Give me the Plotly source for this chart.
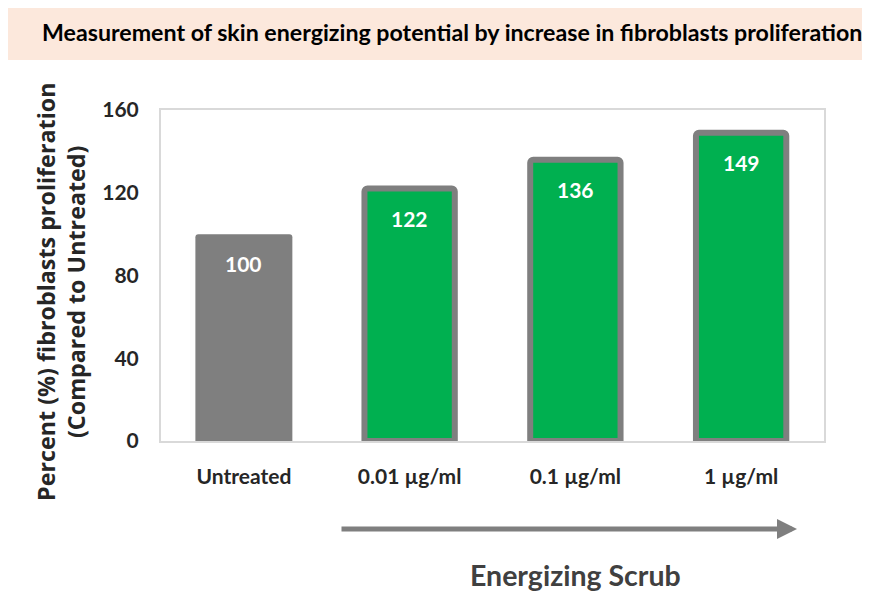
import plotly.graph_objects as go

categories = ["Untreated", "0.01 µg/ml", "0.1 µg/ml", "1 µg/ml"]
values = [100, 122, 136, 149]
labels = ["100", "122", "136", "149"]
y_ticks = [0, 40, 80, 120, 160]

# page offset compensation (body margin)
OFF = 8
W, H = 870 - OFF, 593 - OFF
ml, mr, mt, mb = 161 - OFF, 46, 110 - OFF, 152

FONT = "Lato"

fill_colors = ["#7F7F7F", "#00B050", "#00B050", "#00B050"]
line_widths = [0, 6, 6, 6]
bar_widths = [0.585, 0.545, 0.545, 0.545]

fig = go.Figure()
fig.add_trace(go.Bar(
    x=categories, y=values,
    marker=dict(color=fill_colors, line=dict(color="#7F7F7F", width=line_widths),
                cornerradius=3),
    width=bar_widths, cliponaxis=False, hoverinfo="skip",
))

def px_x(px):
    return (px - OFF - ml) / (W - ml - mr)

def px_y(py):
    return 1 - (py - OFF - mt) / (H - mt - mb)

annotations = [
    dict(text=lab, x=cat, y=val, xref="x", yref="y", yanchor="top", yshift=-15,
         showarrow=False, font=dict(family=FONT, size=21, weight="bold", color="white"))
    for cat, val, lab in zip(categories, values, labels)
]
annotations += [
    dict(text="Measurement of skin energizing potential by increase in fibroblasts proliferation",
         xref="paper", yref="paper", x=px_x(40), y=px_y(32),
         xanchor="left", yanchor="middle", showarrow=False,
         font=dict(family=FONT, size=23.2, weight="bold", color="black")),
    dict(text="Percent (%) fibroblasts proliferation<br>(Compared to Untreated)",
         xref="paper", yref="paper", x=px_x(61), y=px_y(292), textangle=-90,
         xanchor="center", yanchor="middle", showarrow=False,
         font=dict(family="Open Sans", size=23.3, weight="bold", color="#262626")),
    dict(text="", xref="paper", yref="paper", axref="pixel", ayref="pixel",
         x=px_x(797), y=px_y(529), ax=-(797 - 340), ay=0,
         showarrow=True, arrowhead=2, arrowsize=0.8, arrowwidth=5, arrowcolor="#7F7F7F"),
    dict(text="Energizing Scrub", xref="paper", yref="paper",
         x=px_x(575), y=px_y(575), xanchor="center", yanchor="middle", showarrow=False,
         font=dict(family=FONT, size=28.5, weight="bold", color="#404040")),
]

fig.update_layout(
    width=W, height=H,
    margin=dict(l=ml, r=mr, t=mt, b=mb),
    paper_bgcolor="white", plot_bgcolor="white",
    showlegend=False,
    font=dict(family="Open Sans", color="#262626"),
    xaxis=dict(
        showgrid=False, showline=True, linecolor="#D9D9D9", linewidth=2, mirror=True,
        ticks="", ticklabelstandoff=16,
        tickfont=dict(family=FONT, size=21, weight="bold", color="#262626"),
    ),
    yaxis=dict(
        range=[0, 160], tickvals=y_ticks, showgrid=False, zeroline=False,
        showline=True, linecolor="#D9D9D9", linewidth=2, mirror=True,
        ticks="", ticklabelstandoff=16,
        tickfont=dict(family=FONT, size=21, weight="bold", color="#262626"),
    ),
    shapes=[
        dict(type="rect", xref="paper", yref="paper",
             x0=px_x(0), x1=px_x(870), y0=px_y(60), y1=px_y(5),
             fillcolor="#FCE8DC", line=dict(width=0), layer="below"),
    ],
    annotations=annotations,
)

fig.write_html("out.html")
